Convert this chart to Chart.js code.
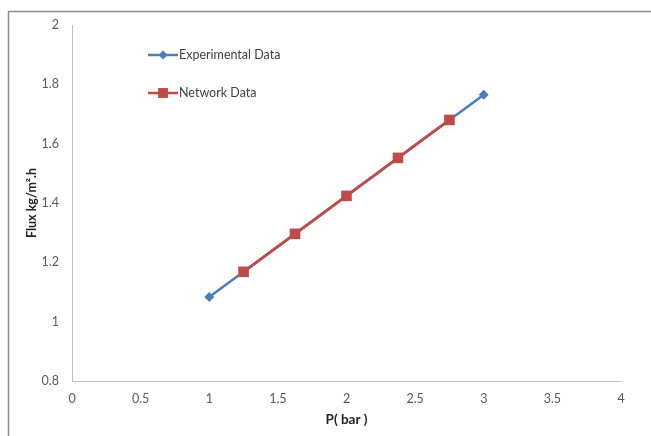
<!DOCTYPE html>
<html>
<head>
<meta charset="utf-8">
<script src="https://cdn.jsdelivr.net/npm/chart.js@4"></script>
<style>
  html, body { margin: 0; padding: 0; background: #fff; }
  #wrap { width: 651px; height: 436px; position: relative; }
</style>
</head>
<body>
<div id="wrap"><canvas id="fluxChart"></canvas></div>
<script>
// --- Data ---
const expPressure = [1, 3];
const expFlux = [1.083, 1.765];
const netPressure = [1.25, 1.625, 2, 2.375, 2.75];
const netFlux = [1.168, 1.296, 1.424, 1.552, 1.68];
const seriesNames = ['Experimental Data', 'Network Data'];

const blue = '#4a7ebb';
const red = '#be4b48';
const fontFamily = 'Lato, "Open Sans", sans-serif';

// Excel style numbers: 1 not 1.0
const plainNum = v => String(Math.round(v * 100) / 100);

// outer frame like the pasted Excel chart
const framePlugin = {
    id: 'frame',
    afterDraw(chart) {
        const ctx = chart.ctx;
        ctx.save();
        ctx.strokeStyle = '#8c8c8c';
        ctx.lineWidth = 1.5;
        ctx.beginPath();
        ctx.moveTo(8.5, 436);
        ctx.lineTo(8.5, 11.5);
        ctx.lineTo(651, 11.5);
        ctx.stroke();
        ctx.restore();
    }
};

// legend sits inside the plot area, top left
const insideLegend = {
    id: 'insideLegend',
    afterDraw(chart) {
        const ctx = chart.ctx;
        const rows = [
            { y: 55, color: blue, style: 'rectRot', r: 4.5 },
            { y: 93, color: red, style: 'rect', r: 7 }
        ];
        ctx.save();
        rows.forEach((row, i) => {
            ctx.strokeStyle = row.color;
            ctx.lineWidth = 2.5;
            ctx.beginPath();
            ctx.moveTo(148, row.y);
            ctx.lineTo(178, row.y);
            ctx.stroke();
            ctx.fillStyle = row.color;
            Chart.helpers.drawPoint(ctx, { pointStyle: row.style, radius: row.r, borderWidth: 0 }, 163, row.y);
            ctx.fillStyle = '#404040';
            ctx.font = '12.5px ' + fontFamily;
            ctx.textBaseline = 'middle';
            ctx.textAlign = 'left';
            ctx.fillText(seriesNames[i], 179, row.y);
        });
        ctx.restore();
    }
};

const ctx = document.getElementById('fluxChart').getContext('2d');
new Chart(ctx, {
    type: 'line',
    data: {
        datasets: [
            {
                label: seriesNames[0],
                data: expPressure.map((p, i) => ({ x: p, y: expFlux[i] })),
                borderColor: blue,
                backgroundColor: blue,
                borderWidth: 2.5,
                pointStyle: 'rectRot',
                pointRadius: 5,
                pointBorderWidth: 0,
                order: 2
            },
            {
                label: seriesNames[1],
                data: netPressure.map((p, i) => ({ x: p, y: netFlux[i] })),
                borderColor: red,
                backgroundColor: red,
                borderWidth: 2.8,
                pointStyle: 'rect',
                pointRadius: 7.5,
                pointBorderWidth: 0,
                order: 1
            }
        ]
    },
    options: {
        responsive: true,
        maintainAspectRatio: false,
        animation: false,
        layout: { padding: { top: 25, right: 30, left: 0, bottom: 0 } },
        plugins: {
            legend: { display: false },
            tooltip: { enabled: false }
        },
        scales: {
            x: {
                type: 'linear',
                min: 0,
                max: 4,
                afterFit: s => { s.height = 55; },
                grid: { display: false, drawTicks: false },
                border: { display: true, color: '#c0c0c0', width: 1 },
                ticks: {
                    stepSize: 0.5,
                    padding: 10,
                    color: '#595959',
                    font: { family: fontFamily, size: 12.5 },
                    callback: plainNum
                },
                title: {
                    display: true,
                    text: 'P( bar )',
                    color: '#222',
                    padding: { top: 0, bottom: 8 },
                    font: { family: fontFamily, size: 13.5, weight: 'bold' }
                }
            },
            y: {
                min: 0.8,
                max: 2,
                afterFit: s => { s.width = 72; },
                grid: { display: false, drawTicks: false },
                border: { display: true, color: '#c0c0c0', width: 1 },
                ticks: {
                    stepSize: 0.2,
                    padding: 13,
                    color: '#595959',
                    font: { family: fontFamily, size: 12.5 },
                    callback: plainNum
                },
                title: {
                    display: true,
                    text: 'Flux kg/m\u00b2.h',
                    color: '#222',
                    padding: { top: 24, bottom: 0 },
                    font: { family: fontFamily, size: 12.5, weight: 'bold' }
                }
            }
        }
    },
    plugins: [framePlugin, insideLegend]
});
</script>
</body>
</html>
